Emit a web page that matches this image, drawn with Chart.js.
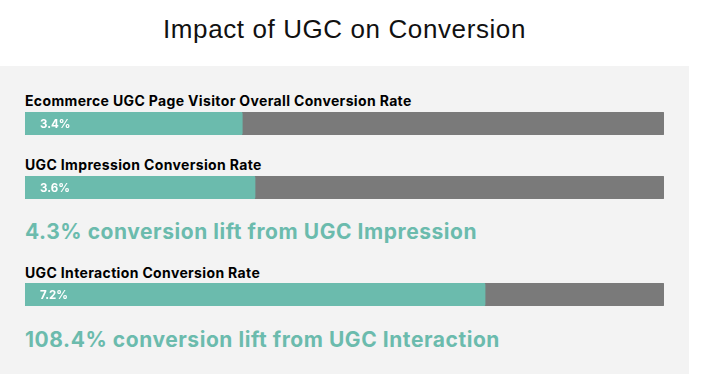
<!DOCTYPE html>
<html>
<head>
<meta charset="utf-8">
<script src="https://cdn.jsdelivr.net/npm/chart.js@4"></script>
<style>
  html, body { margin: 0; padding: 0; background: #ffffff; }
  #wrap { position: relative; width: 725px; height: 379px; overflow: hidden; }
  #title { position: absolute; left: 0; width: 689px; top: 16px; text-align: center;
           font-family: "Liberation Sans", Arial, sans-serif; font-size: 26px; line-height: 1;
           letter-spacing: 0.6px; color: #111; }
  #panel { position: absolute; left: 0; top: 66px; width: 689px; height: 308px; background: #f3f3f3; }
  .lbl { position: absolute; left: 25px; font-family: Inter, sans-serif; font-weight: 700;
         font-size: 14px; line-height: 1; letter-spacing: 0.35px; color: #000; white-space: nowrap; }
  .lift { position: absolute; left: 25px; font-family: Inter, sans-serif; font-weight: 700;
          font-size: 21px; line-height: 1; letter-spacing: 0.55px; color: #6bbbad; white-space: nowrap; }
  .bar { position: absolute; left: 25px; width: 639px; height: 23px; }
</style>
</head>
<body>
<div id="wrap">
  <div id="title">Impact of UGC on Conversion</div>
  <div id="panel"></div>
</div>
<script>
// Données du graphique
const rateLabels = [
    'Ecommerce UGC Page Visitor Overall Conversion Rate',
    'UGC Impression Conversion Rate',
    'UGC Interaction Conversion Rate'
];
const rateValues = [3.4, 3.6, 7.2];
const axisMax = 10;
const liftValues = [4.3, 108.4];
const liftSources = ['UGC Impression', 'UGC Interaction'];

// positions verticales (mise en page)
const labelTops = [94, 158, 266];
const barTops = [112, 176, 283];
const liftTops = [221, 329];

const fillColor = '#6bbbad';
const trackColor = '#7a7a7a';

const wrap = document.getElementById('wrap');

// texte de valeur dans la barre
const valueLabelPlugin = {
    id: 'valueLabel',
    afterDatasetsDraw(chart) {
        const ctx = chart.ctx;
        const bar = chart.getDatasetMeta(0).data[0];
        const v = chart.data.datasets[0].data[0];
        ctx.save();
        ctx.font = 'bold 11.5px Inter, sans-serif';
        ctx.fillStyle = '#ffffff';
        ctx.textBaseline = 'middle';
        ctx.fillText(v.toFixed(1) + '%', bar.base + 15, bar.y + 1);
        ctx.restore();
    }
};

rateLabels.forEach((label, i) => {
    const lbl = document.createElement('div');
    lbl.className = 'lbl';
    lbl.style.top = labelTops[i] + 'px';
    lbl.textContent = label;
    wrap.appendChild(lbl);

    const box = document.createElement('div');
    box.className = 'bar';
    box.style.top = barTops[i] + 'px';
    const canvas = document.createElement('canvas');
    box.appendChild(canvas);
    wrap.appendChild(box);

    new Chart(canvas.getContext('2d'), {
        type: 'bar',
        data: {
            labels: [label],
            datasets: [
                {
                    data: [rateValues[i]],
                    backgroundColor: fillColor,
                    borderRadius: 2,
                    borderSkipped: false,
                    barPercentage: 1,
                    categoryPercentage: 1,
                    grouped: false
                },
                {
                    data: [axisMax],
                    backgroundColor: trackColor,
                    borderRadius: 2,
                    borderSkipped: false,
                    barPercentage: 1,
                    categoryPercentage: 1,
                    grouped: false
                }
            ]
        },
        options: {
            indexAxis: 'y',
            responsive: true,
            maintainAspectRatio: false,
            animation: false,
            layout: { padding: 0 },
            scales: {
                x: { display: false, min: 0, max: axisMax },
                y: { display: false }
            },
            plugins: {
                legend: { display: false },
                tooltip: { enabled: false }
            }
        },
        plugins: [valueLabelPlugin]
    });
});

liftValues.forEach((v, i) => {
    const d = document.createElement('div');
    d.className = 'lift';
    d.style.top = liftTops[i] + 'px';
    d.textContent = v.toFixed(1) + '% conversion lift from ' + liftSources[i];
    wrap.appendChild(d);
});
</script>
</body>
</html>
